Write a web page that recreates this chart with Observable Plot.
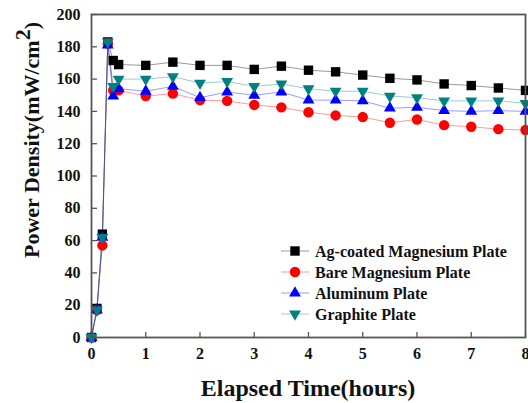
<!DOCTYPE html>
<html><head><meta charset="utf-8">
<script src="https://cdn.jsdelivr.net/npm/d3@7"></script>
<script src="https://cdn.jsdelivr.net/npm/@observablehq/plot@0.6"></script>
<style>body{margin:0;background:#fff}svg{display:block}</style>
</head><body><div id="chart"></div>
<script>
const hours    = [0, 0.1, 0.2, 0.3, 0.4, 0.5, 1, 1.5, 2, 2.5, 3, 3.5, 4, 4.5, 5, 5.5, 6, 6.5, 7, 7.5, 8];
const agCoated = [0, 18, 64, 183, 171.5, 169, 168.5, 170.5, 168.5, 168.5, 166, 168, 165.5, 164.5, 162.5, 160.5, 159.5, 157, 156, 154.5, 153];
const bareMg   = [0, 17, 57, 182, 153, 153, 149.5, 151, 147, 146.5, 144, 142.5, 139.5, 137.5, 136.5, 133, 135, 131.5, 130.5, 129, 128.5];
const aluminum = [0, 17, 62, 181, 149.5, 154, 152.5, 155.5, 148.5, 152, 150, 152, 147, 147, 146.5, 142, 142.5, 140.5, 140, 140.5, 140];
const graphite = [0, 17, 62, 183, 155.5, 160, 160, 161.5, 157.5, 158.5, 155.5, 157, 154, 152.5, 152.5, 149.5, 148.5, 146.5, 146.5, 146.5, 145];
const seriesNames  = ["Ag-coated Magnesium Plate", "Bare Magnesium Plate", "Aluminum Plate", "Graphite Plate"];
const seriesColors = ["#000000", "#ff0000", "#0000ff", "#008080"];
const xTicks = [0, 1, 2, 3, 4, 5, 6, 7, 8];
const yTicks = [0, 20, 40, 60, 80, 100, 120, 140, 160, 180, 200];
const xLabel = "Elapsed Time(hours)";
const yLabelMain = "Power Density(mW/cm";
const yLabelSup = "2";
const yLabelEnd = ")";

const allSeries = [agCoated, bareMg, aluminum, graphite];
const W = 528, H = 403, mL = 91, mR = 3, mT = 14, mB = 66;
const plotW = W - mL - mR, plotH = H - mT - mB;
const FONT = "'Liberation Serif', 'Times New Roman', serif";

const triDown = {
  draw(ctx, size) {
    const y = -Math.sqrt(size / (3 * Math.sqrt(3)));
    ctx.moveTo(0, -2 * y);
    ctx.lineTo(Math.sqrt(3) * y, y);
    ctx.lineTo(-Math.sqrt(3) * y, y);
    ctx.closePath();
  }
};
const symbols = ["square", "circle", "triangle", triDown];
const radii = [5.3, 5.2, 4.4, 4.4];

const data = allSeries.map((vals, i) => vals.map((v, j) => ({series: seriesNames[i], hours: hours[j], value: v})));

const marks = [];
data.forEach((rows, i) => {
  marks.push(Plot.line(rows, {x: "hours", y: "value", stroke: seriesColors[i], strokeWidth: 1, strokeOpacity: 0.4}));
});
data.forEach((rows, i) => {
  marks.push(Plot.dot(rows, {x: "hours", y: "value", fill: seriesColors[i], stroke: "none", symbol: symbols[i], r: radii[i]}));
});

const chart = Plot.plot({
  width: W, height: H,
  marginLeft: mL, marginRight: mR, marginTop: mT, marginBottom: mB,
  style: {fontFamily: FONT, fontWeight: "bold", fontSize: "16px", color: "#111", background: "#fff", overflow: "visible"},
  x: {domain: [0, 8]},
  y: {domain: [0, 200]},
  marks: [
    Plot.tickX(xTicks, {x: d => d, insetTop: plotH - 5, stroke: "#555", strokeWidth: 1.3}),
    Plot.tickY(yTicks, {y: d => d, insetRight: plotW - 6, stroke: "#555", strokeWidth: 1.3}),
    Plot.axisX(xTicks, {tickSize: 0, tickPadding: 10, label: null, fontSize: 16, fontWeight: "bold"}),
    Plot.axisY(yTicks, {tickSize: 0, tickPadding: 11, label: null, fontSize: 16, fontWeight: "bold"}),
    ...marks,
    Plot.frame({stroke: "#555", strokeWidth: 1.8})
  ]
});

const svg = d3.select(chart);
// x label
svg.append("text")
  .attr("x", mL + plotW / 2).attr("y", 396)
  .attr("text-anchor", "middle")
  .style("font-family", FONT).style("font-weight", "bold").style("font-size", "24px").style("fill", "#111")
  .text(xLabel);
// y label with superscript
const yl = svg.append("text")
  .attr("transform", "translate(39,258) rotate(-90)")
  .attr("text-anchor", "start")
  .style("font-family", FONT).style("font-weight", "bold").style("font-size", "22px").style("fill", "#111");
yl.append("tspan").text(yLabelMain);
yl.append("tspan").attr("dy", -9).text(yLabelSup);
yl.append("tspan").attr("dy", 9).text(yLabelEnd);

// legend
const lg = svg.append("g").attr("text-anchor", "start");
seriesNames.forEach((name, i) => {
  const cy = 251 + i * 21;
  lg.append("line").attr("x1", 281).attr("x2", 309).attr("y1", cy).attr("y2", cy)
    .attr("stroke", seriesColors[i]).attr("stroke-opacity", 0.4).attr("stroke-width", 1);
  const sym = typeof symbols[i] === "string"
    ? {square: d3.symbolSquare, circle: d3.symbolCircle, triangle: d3.symbolTriangle}[symbols[i]]
    : symbols[i];
  lg.append("path").attr("transform", `translate(295,${cy})`)
    .attr("d", d3.symbol(sym, Math.PI * radii[i] * radii[i])())
    .attr("fill", seriesColors[i]);
  lg.append("text").attr("x", 315).attr("y", cy).attr("dy", "0.35em")
    .attr("text-anchor", "start")
    .style("font-family", FONT).style("font-weight", "bold").style("font-size", "16px").style("fill", "#111")
    .text(name);
});

document.getElementById("chart").appendChild(chart);
</script>
</body></html>
